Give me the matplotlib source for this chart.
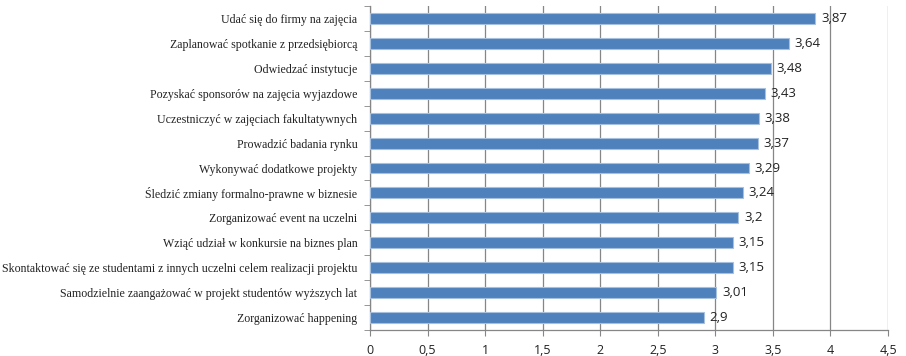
import matplotlib
matplotlib.use("Agg")
import matplotlib.pyplot as plt

# dane
categories = [
    "Udać się do firmy na zajęcia",
    "Zaplanować spotkanie z przedsiębiorcą",
    "Odwiedzać instytucje",
    "Pozyskać sponsorów na zajęcia wyjazdowe",
    "Uczestniczyć w zajęciach fakultatywnych",
    "Prowadzić badania rynku",
    "Wykonywać dodatkowe projekty",
    "Śledzić zmiany formalno-prawne w biznesie",
    "Zorganizować event na uczelni",
    "Wziąć udział w konkursie na biznes plan",
    "Skontaktować się ze studentami z innych uczelni celem realizacji projektu",
    "Samodzielnie zaangażować w projekt studentów wyższych lat",
    "Zorganizować happening",
]
values = [3.87, 3.64, 3.48, 3.43, 3.38, 3.37, 3.29, 3.24, 3.2, 3.15, 3.15, 3.01, 2.9]
value_labels = ["3,87", "3,64", "3,48", "3,43", "3,38", "3,37", "3,29", "3,24", "3,2", "3,15", "3,15", "3,01", "2,9"]
xticks = [0, 0.5, 1, 1.5, 2, 2.5, 3, 3.5, 4, 4.5]
xtick_labels = ["0", "0,5", "1", "1,5", "2", "2,5", "3", "3,5", "4", "4,5"]

fig = plt.figure(figsize=(9.06, 3.56), dpi=100)
ax = fig.add_axes([370 / 906, 26 / 356, 518 / 906, 324 / 356])

pos = list(range(len(categories)))
ax.barh(pos, values, height=0.44, color="#4F81BD", edgecolor="#A7C0DE", linewidth=0.8, zorder=3)

for p, v, t in zip(pos, values, value_labels):
    ax.text(v + 0.05, p, t, va="center", ha="left", fontsize=9.5,
            family="Open Sans", color="#222222", zorder=4)

ax.set_ylim(len(categories) - 0.5, -0.5)
ax.set_xlim(0, 4.5)
ax.set_yticks(pos)
ax.set_yticklabels(categories, family="Liberation Serif", fontsize=8.6, color="#222222")
ax.set_xticks(xticks)
ax.set_xticklabels(xtick_labels, family="Open Sans", fontsize=9, color="#222222")

ax.set_yticks([i - 0.5 for i in range(len(categories) + 1)], minor=True)
ax.tick_params(axis="y", which="major", length=0, pad=9)
ax.tick_params(axis="y", which="minor", length=4, color="#868686")
ax.tick_params(axis="x", length=4, color="#868686", pad=6)

ax.grid(axis="x", color="#868686", linewidth=0.9, zorder=0)
for s in ["top", "right"]:
    ax.spines[s].set_visible(False)
for s in ["left", "bottom"]:
    ax.spines[s].set_color("#868686")
    ax.spines[s].set_linewidth(0.9)

fig.savefig("out.png", dpi=100)
